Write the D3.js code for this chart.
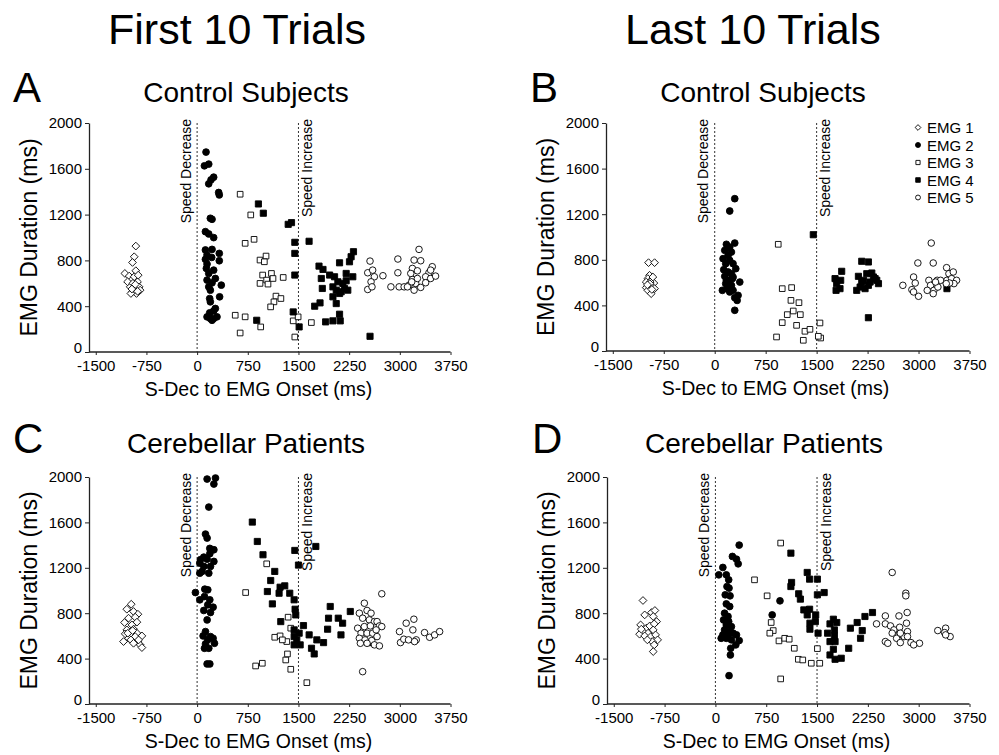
<!DOCTYPE html>
<html>
<head>
<meta charset="utf-8">
<script src="https://cdn.jsdelivr.net/npm/d3@7"></script>
<style>
  html, body { margin: 0; padding: 0; background: #fff; }
  svg { display: block; }
</style>
</head>
<body>
<svg id="fig" width="999" height="755"></svg>
<script>
// ---- Data: [S-Dec to EMG onset (ms), EMG duration (ms)] ----

// A: Control subjects, first 10 trials
const A_emg1 = [[-907,925],[-931,832],[-956,782],[-907,710],[-1069,686],[-1005,663],[-970,628],[-931,657],[-882,613],[-941,584],[-990,569],[-907,555],[-858,569],[-956,526],[-897,511],[-931,540],[-1029,613],[-872,671],[-843,540],[-980,511],[-950,600],[-915,590],[-880,530],[-965,550]];
const A_emg2 = [[132,1746],[108,1626],[172,1641],[245,1527],[206,1504],[172,1469],[319,1393],[328,1372],[196,1168],[221,1159],[123,1051],[172,1031],[245,999],[123,891],[221,896],[328,861],[147,847],[123,809],[216,826],[328,797],[147,768],[137,730],[172,686],[245,715],[358,584],[147,628],[270,642],[221,604],[196,540],[172,569],[333,482],[186,467],[196,438],[270,380],[245,359],[186,342],[147,307],[196,292],[245,292],[221,277],[294,307]];
const A_emg3 = [[637,1378],[794,1197],[843,984],[711,949],[931,803],[1020,838],[995,788],[970,672],[1100,686],[1029,628],[931,599],[1049,593],[1123,642],[1167,488],[1240,467],[1137,438],[1088,394],[1274,651],[564,321],[711,307],[941,219],[637,166],[1422,272],[1495,307],[1446,131],[1691,257]];
const A_emg4 = [[907,1293],[980,1212],[1348,1115],[1397,1130],[1446,958],[1446,861],[1446,672],[882,277],[1422,350],[1510,219],[1657,967],[1804,750],[1863,721],[1838,642],[1853,555],[1740,400],[1819,429],[1961,672],[2034,657],[2010,569],[2059,540],[2010,482],[2108,779],[2059,423],[2108,330],[1902,263],[2010,272],[2118,272],[2083,613],[2157,599],[2206,622],[2181,555],[2255,788],[2279,832],[2314,876],[2304,657],[2230,540],[2132,526],[2559,137],[2206,686],[2108,511]];
const A_emg5 = [[2559,794],[2525,692],[2598,715],[2623,657],[2574,613],[2525,546],[2588,569],[2750,666],[2971,812],[2971,692],[2868,569],[2990,569],[3064,569],[3284,896],[3211,803],[3309,797],[3186,730],[3260,709],[3186,634],[3137,584],[3235,599],[3211,540],[3113,569],[3309,564],[3176,613],[3480,745],[3431,692],[3382,657],[3456,642],[3529,663],[3382,605],[3260,642],[3162,686],[3456,715]];

// B: Control subjects, last 10 trials
const B_emg1 = [[-974,775],[-885,775],[-959,664],[-984,635],[-935,620],[-1008,605],[-895,596],[-964,576],[-915,561],[-1008,556],[-885,547],[-984,532],[-935,503],[-949,605],[-910,649],[-955,590],[-925,540],[-990,580]];
const B_emg2 = [[295,1336],[221,1228],[295,947],[172,936],[221,912],[148,883],[246,868],[197,839],[123,810],[221,795],[162,766],[270,766],[310,722],[133,713],[197,693],[246,678],[148,655],[270,649],[211,620],[369,605],[162,591],[246,576],[182,547],[270,532],[113,532],[221,518],[344,488],[295,468],[330,444],[295,357],[261,635],[172,620]];
const B_emg3 = [[935,936],[994,547],[1132,556],[1122,444],[1240,424],[1068,319],[1156,351],[1260,319],[994,249],[1205,225],[1328,173],[1402,190],[910,123],[1304,94],[1549,246],[1559,114],[1525,129]];
const B_emg4 = [[1451,1020],[1869,699],[1771,635],[1795,591],[1844,547],[1786,532],[1854,620],[2164,787],[2262,781],[2115,655],[2189,620],[2238,678],[2312,684],[2336,649],[2140,561],[2213,547],[2090,532],[2287,605],[2385,620],[2410,591],[2262,576],[2164,605],[2262,292],[2361,635],[3418,547]];
const B_emg5 = [[2769,576],[2927,649],[2951,596],[2902,538],[3000,480],[2927,518],[2990,772],[3187,947],[3216,772],[3152,620],[3275,620],[3177,576],[3226,532],[3128,532],[3216,503],[3285,561],[3324,620],[3413,731],[3447,678],[3511,693],[3418,620],[3486,635],[3560,620],[3521,591],[3457,596],[3408,591],[3250,605]];

// C: Cerebellar patients, first 10 trials
const C_emg1 = [[-975,879],[-1040,835],[-941,815],[-876,791],[-1015,756],[-916,765],[-1074,718],[-891,721],[-965,697],[-1040,653],[-941,659],[-1064,618],[-980,609],[-891,624],[-1015,579],[-916,594],[-817,600],[-1089,550],[-980,565],[-881,550],[-842,521],[-817,497],[-941,535],[-1025,624],[-955,647],[-866,565]];
const C_emg2 = [[148,1982],[272,1991],[248,1938],[173,1735],[124,1497],[148,1462],[188,1371],[248,1359],[188,1324],[99,1294],[148,1276],[49,1271],[40,1241],[248,1256],[99,1212],[198,1212],[74,1168],[40,1153],[173,1153],[-25,982],[40,918],[114,1012],[158,1006],[109,947],[188,918],[158,874],[237,853],[99,824],[198,806],[148,741],[124,638],[89,600],[198,594],[158,565],[124,529],[257,535],[173,491],[109,491],[148,353],[188,353],[237,579]];
const C_emg3 = [[718,982],[1030,1235],[866,335],[965,359],[1149,588],[1228,600],[1327,550],[1347,765],[1386,668],[1312,388],[1337,441],[1386,306],[1624,188],[1262,565]];
const C_emg4 = [[817,1603],[891,1432],[975,1315],[1149,1168],[1089,1088],[1040,991],[1114,882],[1213,976],[1297,1041],[1228,1029],[1371,976],[1436,918],[1446,1353],[1500,1224],[1757,1388],[1450,835],[1460,785],[1238,726],[1436,653],[1510,624],[1574,691],[1436,594],[1475,565],[1436,521],[1525,521],[1658,609],[1772,565],[1693,491],[1733,441],[1871,541],[1945,756],[1970,859],[1931,659],[2089,756],[2153,712],[2129,609],[2267,815],[2535,541]];
const C_emg5 = [[2475,888],[2733,971],[2401,800],[2515,824],[2574,800],[2450,756],[2549,741],[2624,726],[2376,668],[2475,682],[2564,688],[2663,726],[2698,688],[2733,682],[2426,624],[2515,624],[2599,624],[2649,653],[2401,579],[2485,565],[2584,559],[2663,594],[2416,535],[2515,535],[2624,521],[2698,512],[2450,285],[2995,638],[3010,541],[3094,712],[3208,747],[3193,653],[3059,571],[3129,565],[3243,565],[3366,629],[3441,588],[3515,609],[3589,638],[3218,550]];

// D: Cerebellar patients, last 10 trials
const D_emg1 = [[-1069,912],[-1044,785],[-943,806],[-893,824],[-918,771],[-868,726],[-1104,697],[-1019,668],[-969,688],[-903,706],[-1069,638],[-994,624],[-918,653],[-1119,615],[-1044,600],[-953,594],[-883,609],[-853,565],[-933,550],[-903,521],[-918,462],[-1004,565],[-1094,659]];
const D_emg2 = [[351,1400],[251,1300],[311,1276],[336,1235],[110,1203],[50,1138],[161,1138],[196,1094],[171,1035],[201,1021],[145,962],[216,953],[161,882],[211,859],[953,909],[838,785],[135,800],[186,771],[120,741],[196,726],[161,697],[236,682],[135,653],[211,638],[261,624],[311,609],[85,579],[161,579],[236,565],[351,559],[301,521],[226,491],[221,432],[201,250],[110,609],[186,609]];
const D_emg3 = [[963,1418],[577,1094],[763,953],[823,718],[853,647],[803,624],[938,556],[1023,579],[1089,571],[1164,491],[1224,394],[1289,388],[1415,359],[1540,359],[1505,488],[963,221]];
const D_emg4 = [[1114,1329],[1355,1159],[1390,1100],[1505,1100],[1124,1071],[1114,1035],[1229,971],[1254,924],[1505,962],[1605,982],[1305,829],[1355,785],[1390,835],[1480,785],[1395,712],[1475,726],[1395,659],[1515,624],[1741,747],[1691,706],[1756,653],[1656,624],[1756,600],[1691,550],[1766,550],[1741,482],[1691,432],[1766,394],[1857,403],[1791,718],[1992,668],[2092,718],[2167,647],[2207,771],[2318,806],[2142,579],[1967,491]];
const D_emg5 = [[2609,1159],[2810,976],[2810,953],[2378,706],[2508,776],[2709,776],[2830,806],[2508,706],[2584,688],[2820,712],[2635,653],[2719,676],[2835,638],[2709,609],[2785,594],[2674,579],[2508,550],[2544,535],[2729,541],[2835,594],[2886,541],[3012,535],[2926,521],[2729,624],[2609,624],[3282,647],[3398,668],[3383,629],[3464,594],[3398,609]];

// Axis ticks and labels
const xTicks = [-1500, -750, 0, 750, 1500, 2250, 3000, 3750];
const yTicks = [0, 400, 800, 1200, 1600, 2000];
const phaseLines = [0, 1500];
const phaseLabels = ["Speed Decrease", "Speed Increase"];
const seriesNames = ["EMG 1", "EMG 2", "EMG 3", "EMG 4", "EMG 5"];
const columnTitles = ["First 10 Trials", "Last 10 Trials"];
const panelLetters = ["A", "B", "C", "D"];
const panelTitles = ["Control Subjects", "Control Subjects", "Cerebellar Patients", "Cerebellar Patients"];
const xTitle = "S-Dec to EMG Onset (ms)";
const yTitle = "EMG Duration (ms)";

// ---- Drawing ----
const FONT = "'Liberation Sans', Arial, Helvetica, sans-serif";
const svg = d3.select("#fig");
const plain = d => String(d);   // "-1500", "2000": no grouping, ASCII hyphen

// square-on-point diamond
const diamondType = {
  draw(ctx, size) {
    const h = Math.sqrt(size / 2);
    ctx.moveTo(0, -h); ctx.lineTo(h, 0); ctx.lineTo(0, h); ctx.lineTo(-h, 0); ctx.closePath();
  }
};
const markerStyles = [
  { type: diamondType,     fill: "#fff", stroke: "#000", size: 30 },
  { type: d3.symbolCircle, fill: "#000", stroke: "#000", size: 36 },
  { type: d3.symbolSquare, fill: "#fff", stroke: "#000", size: 32 },
  { type: d3.symbolSquare, fill: "#000", stroke: "#000", size: 38 },
  { type: d3.symbolCircle, fill: "#fff", stroke: "#000", size: 34 }
];

// column headers
svg.append("text").attr("x", 108).attr("y", 44).attr("font-family", FONT).attr("font-size", 43).text(columnTitles[0]);
svg.append("text").attr("x", 625).attr("y", 44).attr("font-family", FONT).attr("font-size", 43).text(columnTitles[1]);

const panels = [
  { x0: 89,  x1: 450.5, yTop: 123, yBot: 352, series: [A_emg1, A_emg2, A_emg3, A_emg4, A_emg5], legend: false, letterX: 13,  baseY: 102 },
  { x0: 606, x1: 969.5, yTop: 123, yBot: 351, series: [B_emg1, B_emg2, B_emg3, B_emg4, B_emg5], legend: true,  letterX: 530, baseY: 102 },
  { x0: 89,  x1: 450.5, yTop: 477, yBot: 704, series: [C_emg1, C_emg2, C_emg3, C_emg4, C_emg5], legend: false, letterX: 13,  baseY: 453 },
  { x0: 607, x1: 969.5, yTop: 477, yBot: 704, series: [D_emg1, D_emg2, D_emg3, D_emg4, D_emg5], legend: false, letterX: 532, baseY: 453 }
];

panels.forEach((p, i) => {
  const g = svg.append("g");
  const x = d3.scaleLinear().domain([-1600, 3750]).range([p.x0, p.x1]);
  const y = d3.scaleLinear().domain([0, 2000]).range([p.yBot, p.yTop]);

  // panel letter and title
  g.append("text").attr("x", p.letterX).attr("y", p.baseY).attr("font-family", FONT).attr("font-size", 42).text(panelLetters[i]);
  g.append("text").attr("x", p.x0 + 157).attr("y", p.baseY).attr("text-anchor", "middle")
    .attr("font-family", FONT).attr("font-size", 28).text(panelTitles[i]);

  // axes
  const xAxis = g.append("g").attr("transform", `translate(0,${p.yBot})`)
    .call(d3.axisBottom(x).tickValues(xTicks).tickFormat(plain).tickSize(3).tickSizeOuter(0).tickPadding(5));
  const yAxis = g.append("g").attr("transform", `translate(${p.x0},0)`)
    .call(d3.axisLeft(y).tickValues(yTicks).tickFormat(plain).tickSize(4).tickSizeOuter(0).tickPadding(3));
  [xAxis, yAxis].forEach(ax => {
    ax.select(".domain").attr("stroke", "#222").attr("stroke-width", 1.3);
    ax.selectAll(".tick line").attr("stroke", "#222").attr("stroke-width", 1);
    ax.selectAll(".tick text").attr("font-family", FONT).attr("font-size", 15).attr("fill", "#000");
  });
  xAxis.select(".domain").attr("d", `M${p.x0},0H${p.x1}`);
  // the zero label sits just above the x tick labels at the corner
  yAxis.selectAll(".tick text").filter(d => d === 0).attr("dy", "0.05em");

  // axis titles
  g.append("text").attr("x", p.x0 + 169.5).attr("y", p.yBot + 44).attr("text-anchor", "middle")
    .attr("font-family", FONT).attr("font-size", 19.5).text(xTitle);
  g.append("text").attr("transform", `translate(${p.x0 - 52},${(p.yTop + p.yBot) / 2}) rotate(-90)`)
    .attr("text-anchor", "middle").attr("font-family", FONT).attr("font-size", 23).text(yTitle);

  // phase boundary lines with labels
  phaseLines.forEach((v, k) => {
    g.append("line").attr("x1", x(v)).attr("x2", x(v)).attr("y1", y(2000)).attr("y2", y(0))
      .attr("stroke", "#333").attr("stroke-width", 1).attr("stroke-dasharray", "2,2");
    const bx = k === 0 ? x(v) - 6.5 : x(v) + 13.5;
    g.append("text").attr("transform", `translate(${bx},${y(2000) - 4}) rotate(-90)`)
      .attr("text-anchor", "end").attr("font-family", FONT).attr("font-size", 14).text(phaseLabels[k]);
  });

  // scatter points
  const order = [0, 2, 1, 3, 4];
  order.forEach(s => {
    const st = markerStyles[s];
    const sym = d3.symbol().type(st.type).size(st.size);
    g.append("g").selectAll("path").data(p.series[s]).join("path")
      .attr("transform", d => `translate(${x(d[0])},${y(d[1])})`)
      .attr("d", sym)
      .attr("fill", st.fill).attr("stroke", st.stroke).attr("stroke-width", 0.9);
  });

  // legend
  if (p.legend) {
    const lg = g.append("g");
    seriesNames.forEach((name, s) => {
      const st = markerStyles[s];
      const cy = 127.5 + s * 17.5;
      lg.append("path").attr("transform", `translate(918,${cy})`)
        .attr("d", d3.symbol().type(st.type).size(st.size * 0.55))
        .attr("fill", st.fill).attr("stroke", st.stroke).attr("stroke-width", 0.9);
      lg.append("text").attr("x", 927).attr("y", cy + 5.5).attr("font-family", FONT).attr("font-size", 15).text(name);
    });
  }
});
</script>
</body>
</html>
